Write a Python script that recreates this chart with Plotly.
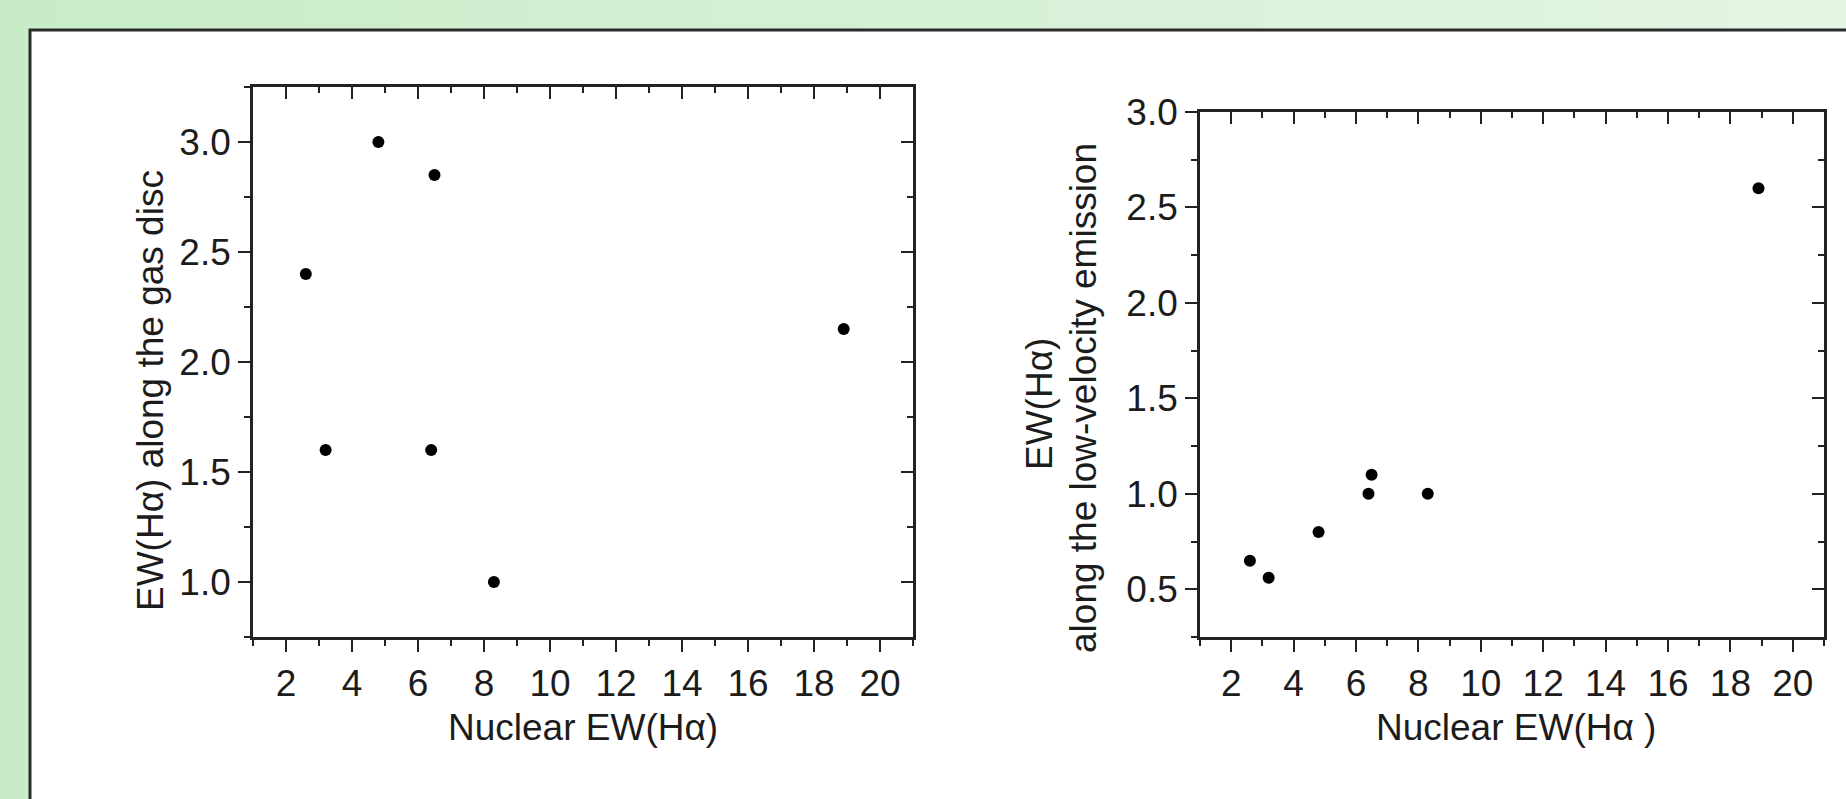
import plotly.graph_objects as go

# ---- data ----
nuclear_ew = [2.6, 3.2, 4.8, 6.4, 6.5, 8.3, 18.9]
ew_gas_disc = [2.4, 1.6, 3.0, 1.6, 2.85, 1.0, 2.15]
ew_low_velocity = [0.65, 0.56, 0.8, 1.0, 1.1, 1.0, 2.6]

x_title_left = "Nuclear EW(Hα)"
x_title_right = "Nuclear EW(Hα )"
y_title_left = "EW(Hα) along the gas disc"
y_title_right_1 = "EW(Hα)"
y_title_right_2 = "along the low-velocity emission"

W, H = 1846, 799
def fx(px):
    return px / W
def fy(py):
    return 1 - py / H

FONT = "Liberation Sans, Arial, sans-serif"
TXT = "#1c1c1c"
AX = "#222222"

fig = go.Figure()

fig.add_trace(go.Scatter(x=nuclear_ew, y=ew_gas_disc, mode="markers",
                         marker=dict(color="black", size=12), xaxis="x", yaxis="y",
                         showlegend=False))
fig.add_trace(go.Scatter(x=nuclear_ew, y=ew_low_velocity, mode="markers",
                         marker=dict(color="black", size=12), xaxis="x2", yaxis="y2",
                         showlegend=False))
# invisible traces so overlay axes get drawn
for xa, ya in [("x3", "y"), ("x", "y3"), ("x4", "y2"), ("x2", "y4")]:
    fig.add_trace(go.Scatter(x=[None], y=[None], mode="markers", xaxis=xa, yaxis=ya,
                             showlegend=False, hoverinfo="skip"))

def main_x(domain, anchor, rng):
    return dict(domain=domain, anchor=anchor, range=rng, tick0=0, dtick=2,
                ticks="outside", ticklen=12, tickwidth=2.2, tickcolor=AX,
                minor=dict(dtick=1, tick0=0, ticks="outside", ticklen=6, tickwidth=2.2, tickcolor=AX),
                showline=True, linewidth=2.6, linecolor=AX, mirror=True,
                showgrid=False, zeroline=False, automargin=False,
                tickfont=dict(family=FONT, size=37, color=TXT))

def main_y(domain, anchor, rng):
    return dict(domain=domain, anchor=anchor, range=rng, tick0=0, dtick=0.5, tickformat=".1f",
                ticks="outside", ticklen=12, tickwidth=2.2, tickcolor=AX,
                minor=dict(dtick=0.25, tick0=0, ticks="outside", ticklen=6, tickwidth=2.2, tickcolor=AX),
                showline=True, linewidth=2.6, linecolor=AX, mirror=True,
                showgrid=False, zeroline=False, automargin=False,
                tickfont=dict(family=FONT, size=37, color=TXT))

def over_x(over, anchor, rng):
    return dict(overlaying=over, anchor=anchor, side="top", range=rng, tick0=0, dtick=2,
                ticks="inside", ticklen=12, tickwidth=2.2, tickcolor=AX,
                minor=dict(dtick=1, tick0=0, ticks="inside", ticklen=6, tickwidth=2.2, tickcolor=AX),
                showticklabels=False, showline=False, showgrid=False, zeroline=False,
                automargin=False)

def over_y(over, anchor, rng):
    return dict(overlaying=over, anchor=anchor, side="right", range=rng, tick0=0, dtick=0.5,
                ticks="inside", ticklen=12, tickwidth=2.2, tickcolor=AX,
                minor=dict(dtick=0.25, tick0=0, ticks="inside", ticklen=6, tickwidth=2.2, tickcolor=AX),
                showticklabels=False, showline=False, showgrid=False, zeroline=False,
                automargin=False)

xr = [1, 21]
yr_left = [0.75, 3.25]
yr_right = [0.25, 3.0]

dom_x1 = [fx(253), fx(913)]
dom_y1 = [fy(637), fy(87)]
dom_x2 = [fx(1200), fx(1824)]
dom_y2 = [fy(637), fy(112)]

# gradient background stripes
shapes = []
N = 60
c0 = (200, 236, 200)
c1 = (227, 245, 227)
for i in range(N):
    t = i / (N - 1)
    c = tuple(int(round(c0[k] + (c1[k] - c0[k]) * t)) for k in range(3))
    shapes.append(dict(type="rect", xref="paper", yref="paper", x0=i / N, x1=(i + 1) / N + 0.001,
                       y0=0, y1=1, fillcolor="rgb(%d,%d,%d)" % c, line=dict(width=0), layer="below"))
shapes.append(dict(type="rect", xref="paper", yref="paper", x0=fx(30), x1=1.02, y0=-0.02, y1=fy(30),
                   fillcolor="white", line=dict(color="#2b2b2b", width=3), layer="below"))

def ann(text, x, y, angle=0):
    return dict(text=text, x=fx(x), y=fy(y), xref="paper", yref="paper", showarrow=False,
                textangle=angle, xanchor="center", yanchor="middle",
                font=dict(family=FONT, size=37, color=TXT))

annotations = [
    ann(x_title_left, 583, 727),
    ann(x_title_right, 1516, 727),
    ann(y_title_left, 151, 391, -90),
    ann(y_title_right_1, 1039, 404, -90),
    ann(y_title_right_2, 1083, 398, -90),
]

fig.update_layout(
    template="none",
    width=W, height=H,
    margin=dict(l=0, r=0, t=0, b=0, pad=0, autoexpand=False),
    paper_bgcolor="rgb(214,240,214)",
    plot_bgcolor="white",
    showlegend=False,
    xaxis=main_x(dom_x1, "y", xr),
    yaxis=main_y(dom_y1, "x", yr_left),
    xaxis2=main_x(dom_x2, "y2", xr),
    yaxis2=main_y(dom_y2, "x2", yr_right),
    xaxis3=over_x("x", "y", xr),
    yaxis3=over_y("y", "x", yr_left),
    xaxis4=over_x("x2", "y2", xr),
    yaxis4=over_y("y2", "x2", yr_right),
    shapes=shapes,
    annotations=annotations,
)

fig.write_html("out.html", config={"displayModeBar": False},
               post_script="document.body.style.margin='0';document.body.style.overflow='hidden';")
